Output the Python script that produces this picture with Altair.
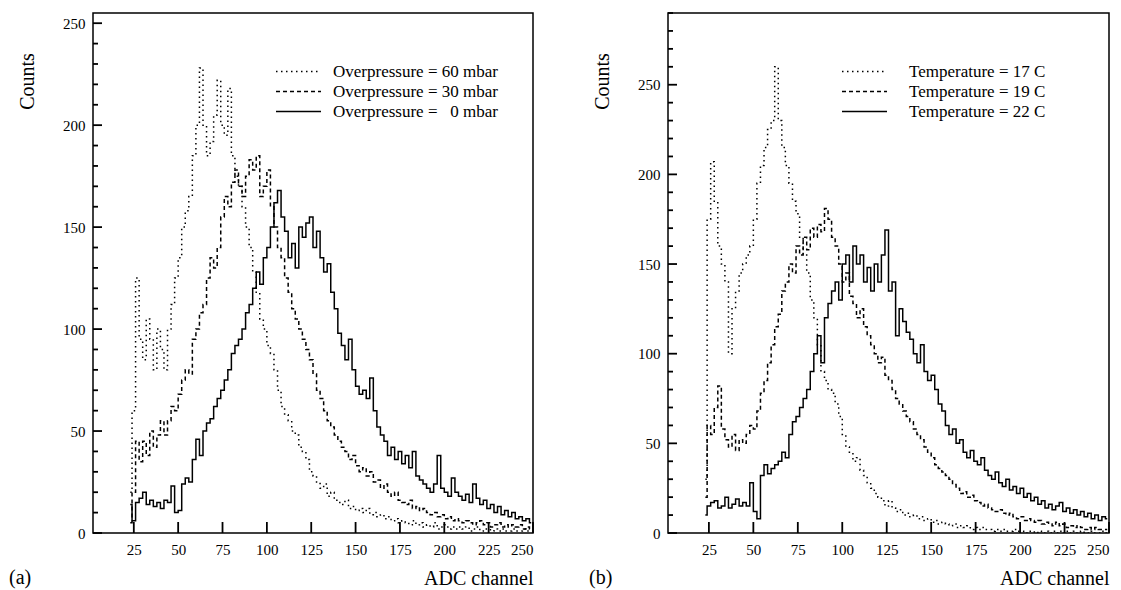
import altair as alt
import pandas as pd

SERIF = "Liberation Serif"

# bin centres (2-channel bins from 22 to 250)
channels = list(range(23, 250, 2))
xticks = [25, 50, 75, 100, 125, 150, 175, 200, 225, 250]

names_a = ["Overpressure = 60 mbar", "Overpressure = 30 mbar",
           "Overpressure =\u00a0\u00a0\u00a00 mbar"]
names_b = ["Temperature = 17 C", "Temperature = 19 C", "Temperature = 22 C"]

# panel (a)
a_60 = [20, 60, 125, 95, 85, 105, 95, 80, 100, 90,
        80, 100, 112, 125, 135, 150, 158, 165, 185, 200,
        228, 200, 185, 192, 205, 222, 200, 195, 218, 185,
        175, 170, 160, 150, 140, 128, 118, 105, 100, 92,
        88, 80, 70, 62, 58, 55, 50, 48, 42, 40,
        36, 30, 28, 25, 22, 24, 18, 20, 16, 15,
        14, 16, 12, 13, 11, 12, 10, 12, 9, 10,
        8, 9, 7, 8, 6, 7, 5, 6, 5, 4,
        6, 4, 5, 3, 4, 3, 5, 2, 3, 4,
        2, 3, 2, 3, 2, 3, 1, 2, 3, 1,
        2, 2, 1, 2, 1, 2, 1, 1, 2, 1,
        1, 2, 1, 1]
a_30 = [5, 20, 45, 35, 45, 38, 50, 42, 48, 55,
        48, 55, 62, 60, 68, 75, 80, 78, 95, 100,
        108, 112, 125, 135, 130, 140, 155, 165, 160, 172,
        178, 170, 165, 175, 183, 178, 185, 165, 170, 178,
        160, 150, 140, 135, 125, 118, 110, 105, 100, 95,
        90, 85, 78, 70, 66, 60, 55, 52, 48, 45,
        42, 40, 36, 38, 33, 30, 32, 28, 30, 25,
        26, 22, 24, 20, 18, 20, 16, 15, 14, 16,
        12, 13, 11, 12, 10, 9, 10, 8, 9, 7,
        8, 6, 7, 6, 5, 6, 5, 4, 5, 6,
        4, 5, 3, 4, 5, 3, 4, 3, 4, 3,
        4, 2, 3, 2]
a_0 = [14, 6, 15, 17, 20, 14, 16, 13, 15, 12,
       16, 15, 23, 10, 11, 24, 27, 25, 36, 46,
       38, 50, 54, 56, 62, 66, 70, 75, 80, 88,
       92, 95, 100, 108, 112, 120, 128, 122, 135, 140,
       150, 162, 168, 155, 148, 135, 142, 130, 150, 145,
       152, 155, 140, 148, 135, 128, 132, 118, 110, 98,
       92, 85, 95, 80, 72, 68, 70, 66, 76, 60,
       52, 48, 45, 38, 42, 36, 40, 34, 38, 32,
       40, 28, 26, 24, 22, 20, 24, 38, 22, 20,
       18, 27, 20, 18, 16, 19, 15, 24, 17, 14,
       16, 12, 14, 10, 13, 9, 11, 8, 10, 7,
       8, 6, 7, 5]

# panel (b)
b_17 = [30, 175, 207, 185, 160, 150, 140, 100, 125, 135,
        145, 150, 155, 160, 175, 195, 205, 215, 225, 230,
        260, 230, 215, 205, 195, 185, 178, 165, 155, 145,
        130, 120, 105, 90, 85, 80, 78, 72, 65, 55,
        48, 45, 40, 42, 35, 32, 28, 25, 22, 20,
        18, 15, 18, 14, 12, 13, 10, 11, 9, 10,
        8, 9, 7, 8, 6, 7, 5, 6, 5, 4,
        5, 3, 4, 3, 4, 2, 3, 2, 3, 2,
        2, 1, 2, 1, 2, 1, 1, 2, 1, 1,
        0, 1, 1, 0, 1, 0, 1, 0, 1, 0,
        1, 0, 1, 0, 1, 0, 1, 0, 0, 1,
        0, 0, 1, 0]
b_19 = [20, 60, 55, 70, 82, 58, 52, 48, 55, 46,
        52, 50, 55, 60, 58, 68, 78, 85, 95, 105,
        115, 122, 135, 140, 150, 145, 160, 155, 165, 158,
        170, 165, 172, 168, 181, 175, 165, 160, 150, 140,
        145, 132, 128, 120, 125, 115, 110, 105, 100, 95,
        98, 88, 85, 80, 75, 72, 68, 65, 62, 58,
        55, 52, 48, 45, 42, 38, 36, 34, 32, 30,
        27, 25, 22, 23, 20, 21, 18, 17, 15, 16,
        14, 13, 12, 13, 11, 10, 11, 9, 8, 9,
        7, 8, 7, 6, 7, 5, 6, 5, 4, 6,
        4, 5, 3, 4, 3, 4, 3, 2, 3, 2,
        3, 2, 2, 2]
b_22 = [10, 15, 17, 18, 14, 15, 20, 14, 16, 19,
        15, 17, 15, 28, 12, 8, 32, 38, 33, 36,
        38, 40, 45, 42, 55, 62, 65, 70, 75, 80,
        90, 100, 110, 95, 120, 128, 135, 140, 130, 150,
        155, 140, 160, 150, 155, 140, 148, 135, 150, 140,
        155, 169, 135, 140, 110, 125, 118, 112, 108, 100,
        95, 105, 90, 85, 88, 80, 72, 68, 60, 55,
        58, 50, 52, 45, 42, 46, 40, 38, 42, 35,
        32, 30, 34, 28, 26, 30, 24, 26, 22, 25,
        20, 22, 18, 20, 16, 18, 14, 16, 13, 15,
        17, 12, 14, 11, 13, 10, 12, 9, 11, 8,
        10, 7, 9, 8]

H = 520
DASHES = [[1.5, 3.5], [4, 3], [1, 0]]


def panel(key, names, values, ymax, width, leg_x, leg_off, tag, tag_dx):
    xs = alt.Scale(domain=[2, 250], nice=False, zero=False)
    ys = alt.Scale(domain=[0, ymax], nice=False, zero=True)
    legend = alt.Legend(orient="none", legendX=leg_x, legendY=50, title=None,
                        symbolType="M-3,0H3", symbolSize=225, symbolStrokeWidth=1.5,
                        symbolStrokeColor="black", symbolFillColor="transparent",
                        labelFont=SERIF, labelFontSize=17, labelColor="black",
                        labelOffset=leg_off, rowPadding=2, padding=0, labelLimit=400)
    dash = alt.StrokeDash(f"{key}:N", scale=alt.Scale(domain=names, range=DASHES),
                          legend=legend)
    major = list(range(0, 251, 50))
    minor = [v for v in range(0, ymax + 1, 10) if v % 50 != 0]
    common = dict(domain=False, grid=False, ticks=False)
    axes = [
        (alt.Axis(orient="bottom", values=xticks,
                  labelFont=SERIF, labelFontSize=15, labelColor="black",
                  labelPadding=9,
                  title="ADC channel", titleFont=SERIF, titleFontSize=20,
                  titleFontWeight="normal", titleColor="black", titleX=width,
                  titleY=51, titleAlign="right", titleBaseline="alphabetic", **common),
         alt.Axis(orient="left", values=major,
                  labelFont=SERIF, labelFontSize=15, labelColor="black",
                  labelPadding=8,
                  title="Counts", titleFont=SERIF, titleFontSize=20,
                  titleFontWeight="normal", titleColor="black", titleX=-66,
                  titleY=68, titleAngle=270, titleAlign="center",
                  titleBaseline="middle", **common)),
        (None, None),
        (None, None),
    ]
    layers = []
    for (name, vals), (ax_x, ax_y) in zip(zip(names, values), axes):
        df = pd.DataFrame({"channel": channels, "counts": vals, key: name})
        layers.append(
            alt.Chart(df).mark_line(interpolate="step", color="black",
                                    strokeWidth=1.5, clip=True)
            .encode(x=alt.X("channel:Q", scale=xs, axis=ax_x),
                    y=alt.Y("counts:Q", scale=ys, axis=ax_y),
                    strokeDash=dash)
        )
    # inward tick marks along the bottom and left frame, placed by the scales
    xt = alt.Chart(pd.DataFrame({"xtick": xticks})).mark_rule(
        color="black", strokeWidth=1.8, opacity=1
    ).encode(x=alt.X("xtick:Q", scale=xs, axis=None),
             y=alt.value(H - 11), y2=alt.value(H))
    yt_major = alt.Chart(pd.DataFrame({"ytick": major})).mark_rule(
        color="black", strokeWidth=1.8, opacity=1
    ).encode(y=alt.Y("ytick:Q", scale=ys, axis=None),
             x=alt.value(0), x2=alt.value(9))
    yt_minor = alt.Chart(pd.DataFrame({"ytick": minor})).mark_rule(
        color="black", strokeWidth=1.8, opacity=1
    ).encode(y=alt.Y("ytick:Q", scale=ys, axis=None),
             x=alt.value(0), x2=alt.value(5))
    tag_layer = alt.Chart(pd.DataFrame({"tag": [tag]})).mark_text(
        font=SERIF, fontSize=20, align="left", baseline="alphabetic", color="black"
    ).encode(text="tag:N", x=alt.value(tag_dx), y=alt.value(H + 51))
    return (alt.layer(*layers, xt, yt_major, yt_minor, tag_layer)
            .resolve_scale(x="shared", y="shared", strokeDash="shared")
            .resolve_axis(x="independent", y="independent")
            .properties(width=width, height=H))


pa = panel("setting_a", names_a, [a_60, a_30, a_0], 255, 440, 197, 26, "(a)", -84)
pb = panel("setting_b", names_b, [b_17, b_19, b_22], 290, 441, 188, 36, "(b)", -79)

chart = (alt.hconcat(pa, pb, spacing=135, bounds="flush")
         .resolve_scale(strokeDash="independent")
         .resolve_legend(strokeDash="independent")
         .properties(padding={"left": 0, "top": 3, "right": 0, "bottom": 0})
         .configure(font=SERIF)
         .configure_view(stroke="black", strokeWidth=1.5))

chart.save("out.html", embed_options={"renderer": "svg", "actions": False})
